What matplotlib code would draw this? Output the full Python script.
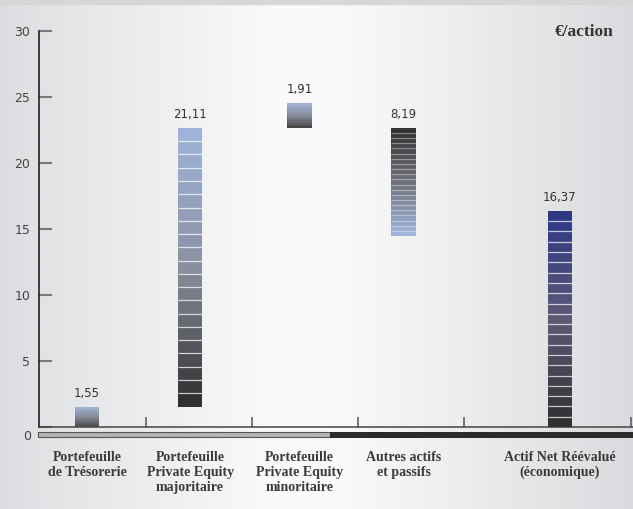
import numpy as np
import matplotlib.pyplot as plt
from matplotlib.colors import LinearSegmentedColormap
from matplotlib.patches import Rectangle

# Bridge of the revalued net asset value, in euros per share
categories = [
    "Portefeuille\nde Trésorerie",
    "Portefeuille\nPrivate Equity\nmajoritaire",
    "Portefeuille\nPrivate Equity\nminoritaire",
    "Autres actifs\net passifs",
    "Actif Net Réévalué\n(économique)",
]
heights = [1.55, 21.11, 1.91, 8.19, 16.37]
bottoms = [0, 1.55, 22.66, 14.47, 0]
value_labels = ["1,55", "21,11", "1,91", "8,19", "16,37"]
yticks = [0, 5, 10, 15, 20, 25, 30]

# layout
xpos = [0.45, 1.42, 2.45, 3.43, 4.9]
bar_w = 0.23
n_seg = 21
ramps = [
    ["#3a393a", "#7d8291", "#9db1da"],
    ["#2e2b2c", "#8a8f9f", "#9fb4dd"],
    ["#353435", "#7c8193", "#9cb0d9"],
    ["#a0b7e0", "#6f7179", "#2f2e2f"],
    ["#302e30", "#5e5875", "#2c3786"],
]

fig = plt.figure(figsize=(6.33, 5.09), dpi=100)

# soft grey-white-grey backdrop
bg = fig.add_axes([0, 0, 1, 1], zorder=-2)
bg_cmap = LinearSegmentedColormap.from_list(
    "bg", [(0, "#dcdde0"), (0.08, "#e3e4e6"), (0.45, "#fbfbfb"),
           (0.55, "#f9f9f9"), (1, "#dadbde")])
bg.imshow(np.linspace(0, 1, 400)[None, :], cmap=bg_cmap, aspect="auto",
          extent=[0, 1, 0, 1])
bg.add_patch(Rectangle((0, 1 - 4 / 509), 1, 4 / 509, color="#d6d6d6"))
bg.set_xlim(0, 1)
bg.set_ylim(0, 1)
bg.axis("off")

ax = fig.add_axes([39.3 / 633, 82 / 509, (633 - 39.3) / 633, 396 / 509])
ax.set_facecolor("none")
ax.set_xlim(0, 5.59)
ax.set_ylim(0, 30)

for x, b, h, ramp, lab in zip(xpos, bottoms, heights, ramps, value_labels):
    cmap = LinearSegmentedColormap.from_list("r", ramp)
    seg = h / n_seg
    seg_px = seg * 13.2
    for k in range(n_seg):
        y0 = b + k * seg
        ax.add_patch(Rectangle((x - bar_w / 2, y0), bar_w, seg,
                               facecolor=cmap((k + 0.5) / n_seg),
                               edgecolor="none", zorder=3))
        if k > 0:
            ax.plot([x - bar_w / 2, x + bar_w / 2], [y0, y0], color="white",
                    lw=0.9, alpha=min(0.75, seg_px / 14), zorder=4,
                    solid_capstyle="butt")
    ax.annotate(lab, (x, b + h), xytext=(0, 5), textcoords="offset points",
                ha="center", va="bottom", fontsize=8.5, color="#333333")

for i, cat in enumerate(categories):
    ax.text(xpos[i], -1.8, cat, ha="center", va="top", fontsize=10,
            family="Liberation Serif", fontweight="bold", color="#3a3a3a",
            linespacing=1.2)

ax.spines["top"].set_visible(False)
ax.spines["right"].set_visible(False)
ax.spines["left"].set_color("#111111")
ax.spines["left"].set_linewidth(1.1)
ax.spines["bottom"].set_color("#444444")
ax.spines["bottom"].set_linewidth(1.1)

ax.set_yticks(yticks)
ax.set_yticklabels([""] + [str(t) for t in yticks[1:]])
ax.tick_params(axis="y", direction="in", length=9.5, width=1.5,
               color="#7a7a7a", labelsize=9, labelcolor="#444444", pad=6.5)
ax.set_xticks([1, 2, 3, 4, 5.575])
ax.tick_params(axis="x", direction="in", length=7, width=1.1,
               color="#555555", labelbottom=False)
ax.text(-0.08, -0.7, "0", ha="right", va="center", fontsize=9,
        color="#444444")

# double baseline bar under the axis
ax.add_patch(Rectangle((-0.01, -0.76), 2.75, 0.36, facecolor="#b4b4b4",
                       edgecolor="#555555", lw=0.8, clip_on=False))
ax.add_patch(Rectangle((2.74, -0.8), 2.9, 0.44, facecolor="#2b2b2b",
                       edgecolor="none", clip_on=False))

fig.text(584 / 633, 1 - 32 / 509, "€/action", ha="center", va="center",
         fontsize=12.5, family="Liberation Serif", fontweight="bold",
         color="#333333")

fig.savefig("out.png", dpi=100)
